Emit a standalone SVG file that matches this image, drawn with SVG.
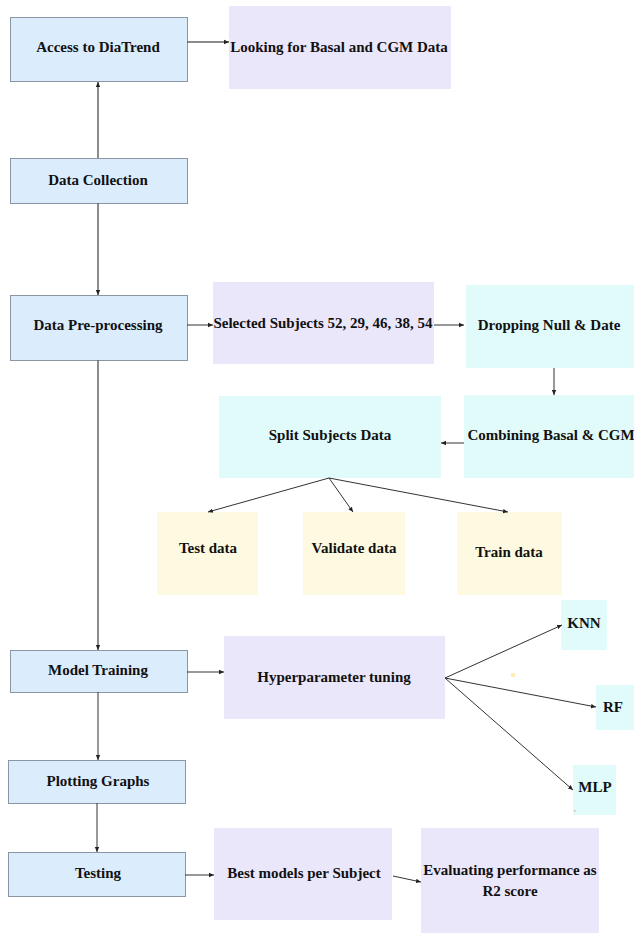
<svg xmlns="http://www.w3.org/2000/svg" width="634" height="933" viewBox="0 0 634 933">
<defs>
<marker id="ah" markerWidth="6" markerHeight="6" refX="5" refY="3" orient="auto" markerUnits="userSpaceOnUse">
<path d="M0,0.8 L5,3 L0,5.2 Z" fill="#222"/>
</marker>
<style>
.blue{fill:#dbecfd;stroke:#8a96a4;stroke-width:1}
.purp{fill:#ebe7fb}
.cyan{fill:#e0fbfa}
.yel{fill:#fefae2}
text{font-family:"Liberation Serif","Times New Roman",serif;font-weight:bold;font-size:15px;fill:#111;text-anchor:middle}
.c path{stroke:#333;stroke-width:1;fill:none;marker-end:url(#ah)}
.c .g{stroke:#666;stroke-width:1.5}
</style>
</defs>
<rect width="634" height="933" fill="#fff"/>
<g id="access"><rect class="blue" x="10.5" y="17.5" width="177" height="64"/><text x="98" y="52">Access to DiaTrend</text></g>
<g id="looking"><rect class="purp" x="229" y="6" width="222" height="83"/><text x="339" y="52">Looking for Basal and CGM Data</text></g>
<g id="collection"><rect class="blue" x="10.5" y="158.5" width="177" height="45"/><text x="98" y="185">Data Collection</text></g>
<g id="preprocessing"><rect class="blue" x="10.5" y="295.5" width="177" height="65"/><text x="98" y="330">Data Pre-processing</text></g>
<g id="selected"><rect class="purp" x="213" y="282" width="221" height="82"/><text x="323" y="328">Selected Subjects 52, 29, 46, 38, 54</text></g>
<g id="dropping"><rect class="cyan" x="466" y="285" width="168" height="83"/><text x="549" y="330">Dropping Null &amp; Date</text></g>
<g id="combining"><rect class="cyan" x="464" y="395" width="170" height="83"/><text x="551" y="440">Combining Basal &amp; CGM</text></g>
<g id="split"><rect class="cyan" x="219" y="396" width="222" height="82"/><text x="330" y="440">Split Subjects Data</text></g>
<g id="test"><rect class="yel" x="157" y="512" width="101" height="83"/><text x="208" y="553">Test data</text></g>
<g id="validate"><rect class="yel" x="303" y="512" width="102" height="83"/><text x="354" y="553">Validate data</text></g>
<g id="train"><rect class="yel" x="457" y="512" width="105" height="83"/><text x="509" y="557">Train data</text></g>
<g id="modeltraining"><rect class="blue" x="10.5" y="650.5" width="177" height="42"/><text x="98" y="675">Model Training</text></g>
<g id="hyper"><rect class="purp" x="224" y="636" width="221" height="83"/><text x="334" y="682">Hyperparameter tuning</text></g>
<g id="knn"><rect class="cyan" x="561" y="600" width="46" height="50"/><text x="584" y="628">KNN</text></g>
<g id="rf"><rect class="cyan" x="596" y="685" width="38" height="45"/><text x="613" y="712">RF</text></g>
<g id="mlp"><rect class="cyan" x="573" y="765" width="43" height="50"/><text x="595" y="792">MLP</text><rect x="574" y="810" width="1.5" height="1.5" fill="#bbb"/></g>
<g id="plotting"><rect class="blue" x="8.5" y="760.5" width="177" height="43"/><text x="98" y="786">Plotting Graphs</text></g>
<g id="testing"><rect class="blue" x="8.5" y="852.5" width="177" height="44"/><text x="98" y="878">Testing</text></g>
<g id="best"><rect class="purp" x="214" y="828" width="178" height="92"/><text x="304" y="878">Best models per Subject</text></g>
<g id="evaluating"><rect class="purp" x="421" y="828" width="178" height="105"/><text x="510" y="875">Evaluating performance as</text><text x="510" y="896">R2 score</text></g>
<rect x="511" y="673" width="4" height="4" fill="#fbeeb8"/>
<g class="c" id="connectors">
<path class="g" d="M187,42 H229"/>
<path class="g" d="M98,158 V82"/>
<path class="g" d="M98,203 V295"/>
<path d="M187,325 H213"/>
<path d="M434,325 H464"/>
<path d="M554,368 V395"/>
<path d="M464,443 H441"/>
<path d="M329,478 L208,512"/>
<path d="M329,478 L353,512"/>
<path d="M329,478 L508,512"/>
<path class="g" d="M98,360 V650"/>
<path d="M187,672 H224"/>
<path d="M445,678 L562,625"/>
<path d="M445,678 L596,707"/>
<path d="M445,678 L573,790"/>
<path d="M98,692 V760"/>
<path d="M97,803 V852"/>
<path d="M185,875 H214"/>
<path d="M393,876 L421,882"/>
</g>
</svg>
